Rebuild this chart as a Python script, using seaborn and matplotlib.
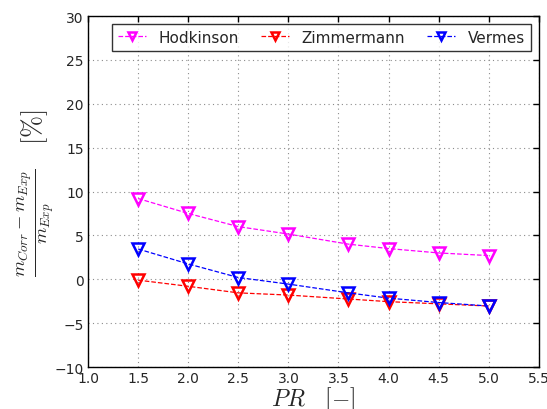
import matplotlib
matplotlib.use("Agg")
import matplotlib.pyplot as plt
import seaborn as sns
import pandas as pd

pr = [1.5, 2.0, 2.5, 3.0, 3.6, 4.0, 4.5, 5.0]
hodkinson = [9.2, 7.5, 6.0, 5.15, 4.0, 3.5, 3.0, 2.7]
zimmermann = [-0.1, -0.8, -1.55, -1.8, -2.25, -2.55, -2.8, -3.05]
vermes = [3.45, 1.75, 0.2, -0.55, -1.55, -2.15, -2.65, -3.05]
series_names = ["Hodkinson", "Zimmermann", "Vermes"]
colors = ["magenta", "red", "blue"]

sns.set_style("white")
plt.rcParams["mathtext.fontset"] = "cm"
plt.rcParams["font.family"] = ["DejaVu Sans"]

df = pd.DataFrame({
    "PR": pr * 3,
    "val": hodkinson + zimmermann + vermes,
    "name": sum([[n] * len(pr) for n in series_names], []),
})

fig = plt.figure(figsize=(5.47, 4.10), dpi=100)
ax = fig.add_axes([0.161, 0.1024, 0.824, 0.8561])

for name, c in zip(series_names, colors):
    sub = df[df["name"] == name]
    sns.lineplot(data=sub, x="PR", y="val", ax=ax, color=c, linestyle="--",
                 linewidth=0.9, marker="v", markersize=8, markerfacecolor="none",
                 markeredgecolor=c, markeredgewidth=1.8, label=name)

ax.set_xlim(1.0, 5.5)
ax.set_ylim(-10, 30)
ax.set_xticks([1.0, 1.5, 2.0, 2.5, 3.0, 3.5, 4.0, 4.5, 5.0, 5.5])
ax.set_yticks(range(-10, 31, 5))
ax.grid(True, linestyle=(0, (1, 3)), color="0.55", linewidth=0.8)
for s in ax.spines.values():
    s.set_color("black")
    s.set_linewidth(1)
ax.tick_params(direction="in", top=True, right=True, length=4, width=1,
               labelsize=10, color="black", pad=3)
ax.set_xlabel(r"$PR \quad [-]$", fontsize=17, labelpad=-1)
ax.set_ylabel(r"$\frac{m_{Corr}-m_{Exp}}{m_{Exp}} \quad [\%]$", fontsize=19, labelpad=-2)

leg = ax.legend(loc="upper right", ncol=3, numpoints=1, fancybox=False,
                frameon=True, fontsize=11, handlelength=1.8, borderaxespad=0.5,
                columnspacing=1.45, markerscale=0.75, handletextpad=0.85)
leg.get_frame().set_edgecolor("black")
leg.get_frame().set_linewidth(1)

fig.savefig("out.png", dpi=100)
